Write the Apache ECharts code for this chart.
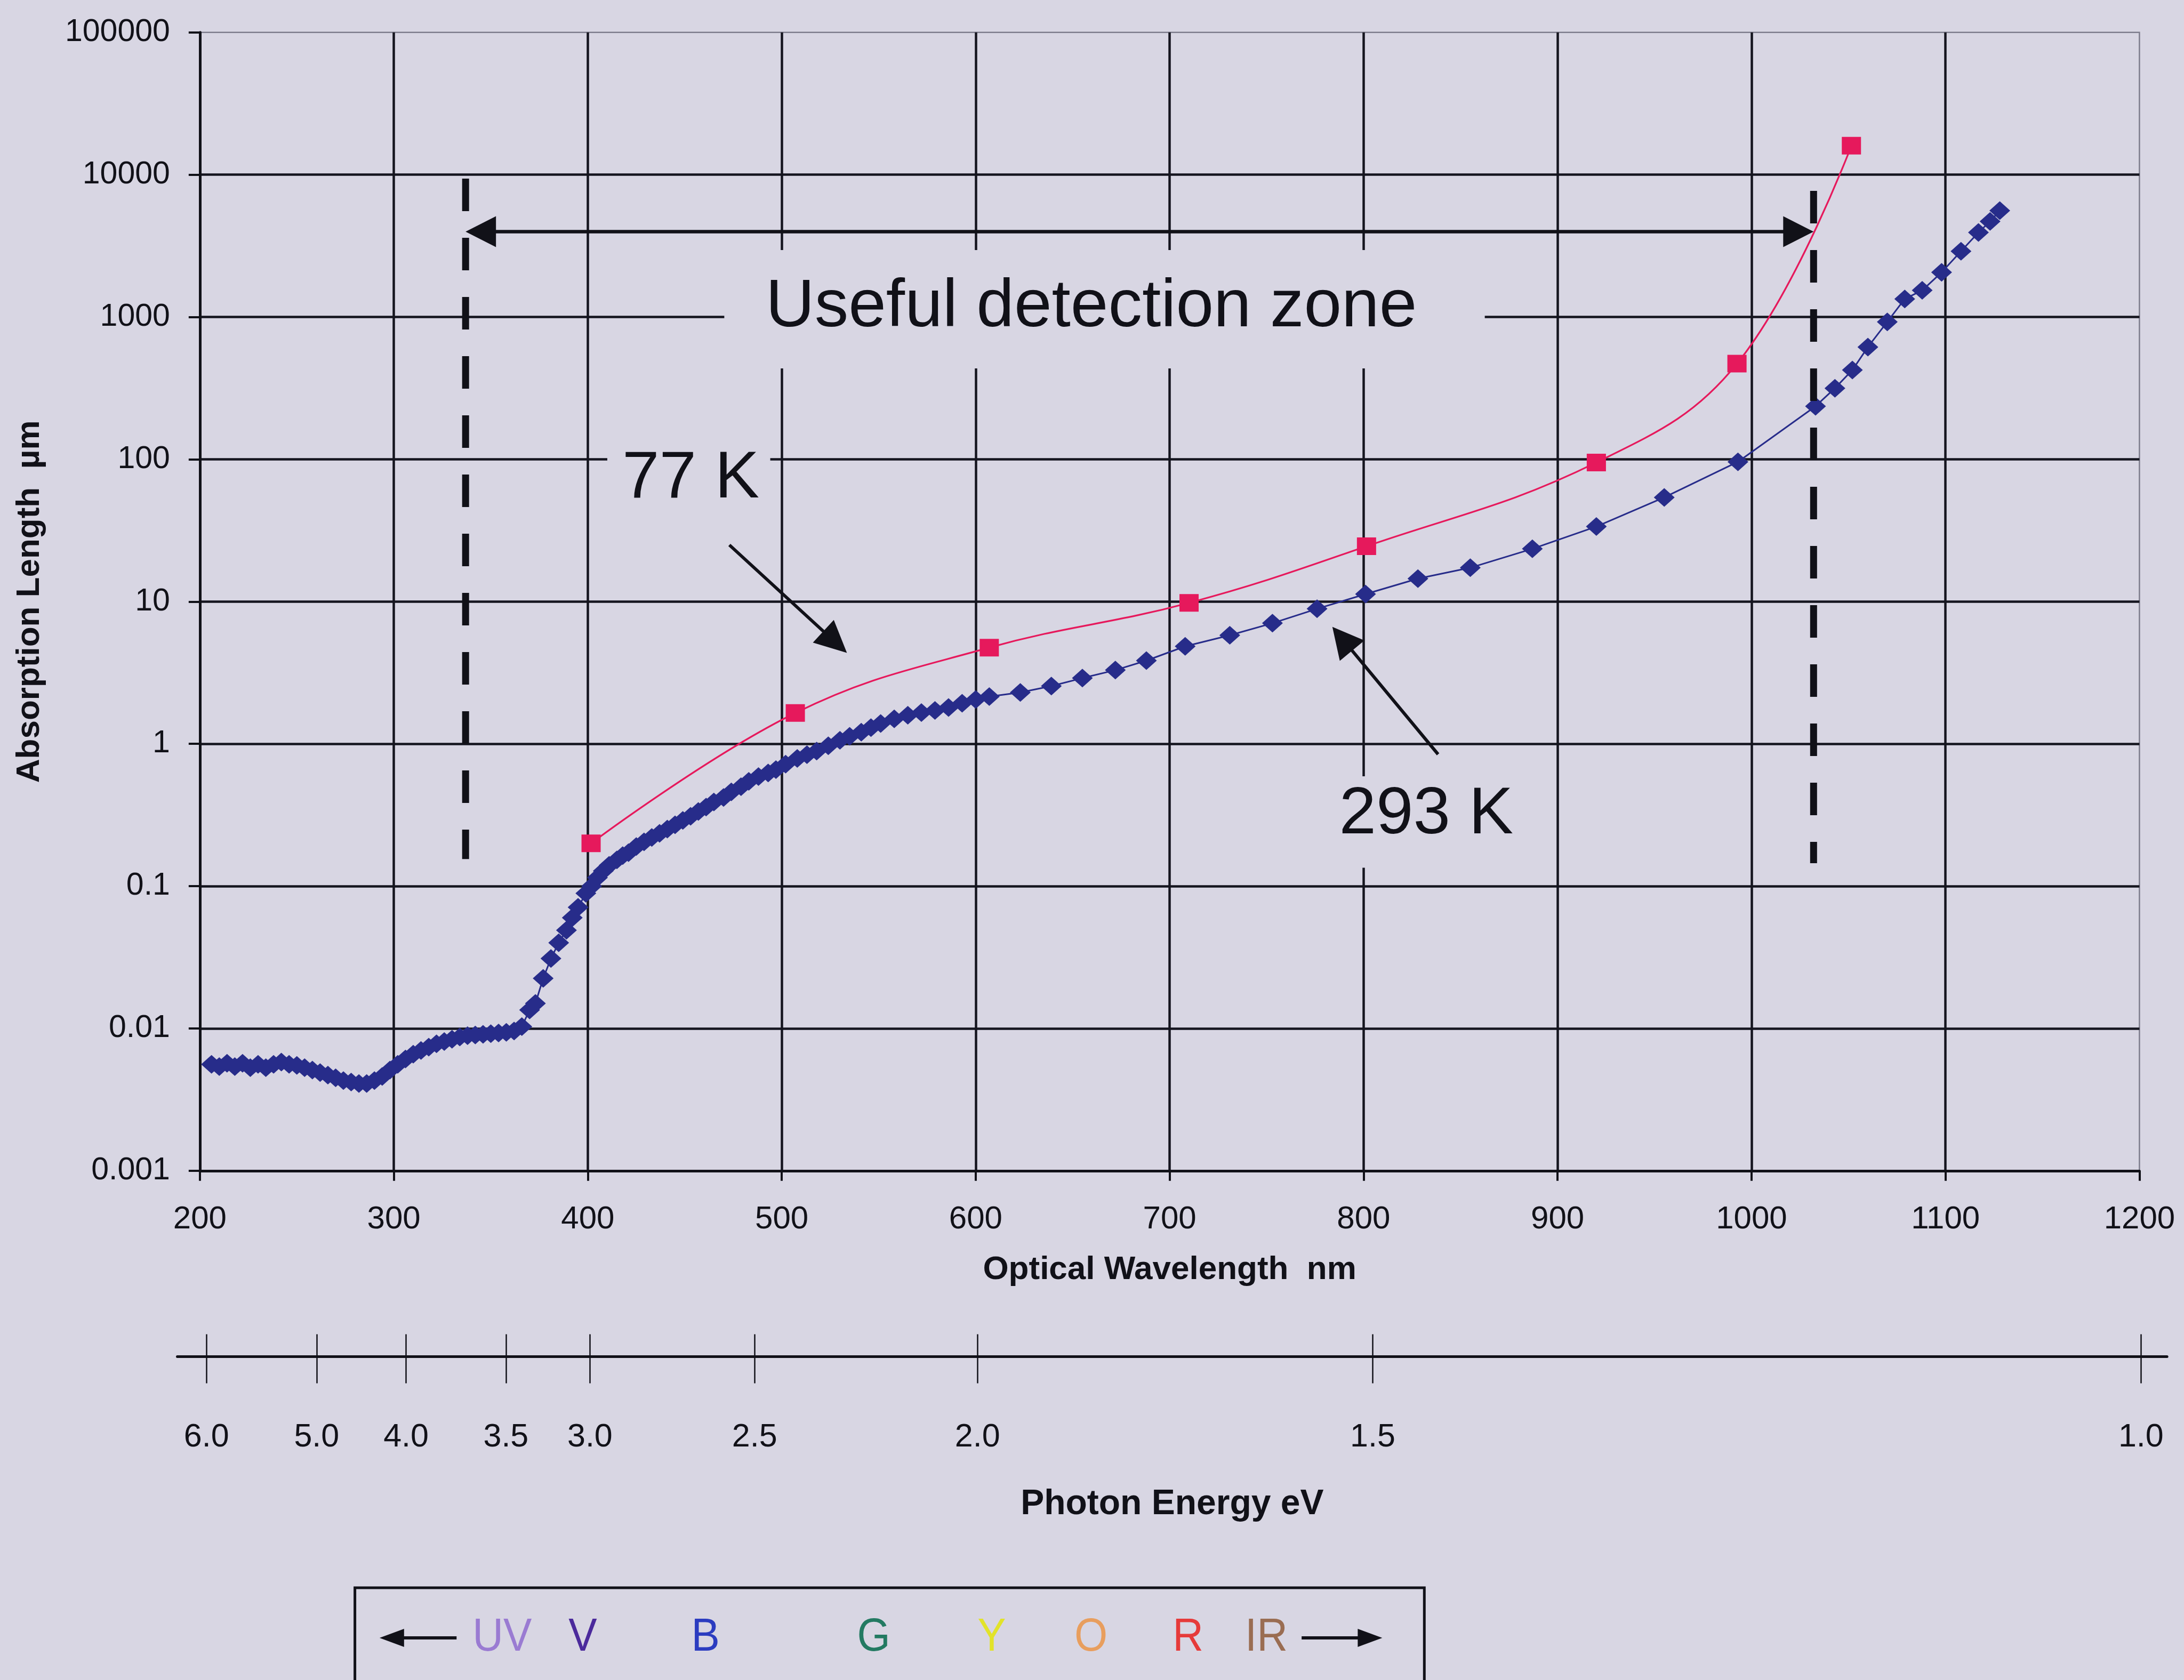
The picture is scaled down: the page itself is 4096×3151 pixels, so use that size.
<!DOCTYPE html>
<html>
<head>
<meta charset="utf-8">
<title>Absorption length of silicon</title>
<script src="https://cdn.jsdelivr.net/npm/echarts@6/dist/echarts.min.js"></script>
<style>
  html, body { margin: 0; padding: 0; background: #d8d6e3; }
  #chart { width: 4096px; height: 3151px; }
</style>
</head>
<body>
<div id="chart"></div>
<script>
// ---- data -------------------------------------------------------------
// 293 K: wavelength (nm) and absorption length (µm)
const wl293 = [
  206, 210, 214, 218, 222, 226, 230, 234, 238, 242, 246, 250, 254, 258, 262, 266,
  270, 274, 278, 282, 286, 290, 294, 298, 302, 306, 310, 314, 318, 322, 326, 330,
  334, 338, 342, 346, 350, 354, 358, 362, 366, 370, 373, 377, 381, 385, 389, 392,
  395, 399, 402, 405, 408, 411, 415, 418, 421, 425, 429, 433, 437, 441, 445, 449,
  453, 457, 461, 465, 470, 474, 479, 483, 488, 493, 497, 502, 508, 513, 518, 524,
  530, 535, 541, 546, 551, 558, 565, 572, 579, 586, 593, 600, 607, 623, 639, 655,
  672, 688, 708, 731, 753, 776, 801, 828, 855, 887, 920, 955, 993, 1033, 1043, 1052,
  1060, 1070, 1079, 1088, 1098, 1108, 1117, 1123, 1128
];
const abs293 = [
  0.0056, 0.0054, 0.0057, 0.0054, 0.0057, 0.0053, 0.0056, 0.0053, 0.0056, 0.0058, 0.0056, 0.0055, 0.0053, 0.0051, 0.0049, 0.0047,
  0.0045, 0.0043, 0.0042, 0.0041, 0.0041, 0.0043, 0.0046, 0.0051, 0.0056, 0.0061, 0.0066, 0.0070, 0.0074, 0.0078, 0.0081, 0.0084,
  0.0087, 0.0089, 0.0090, 0.0091, 0.0092, 0.0093, 0.0094, 0.0096, 0.0103, 0.0135, 0.0150, 0.0225, 0.031, 0.040, 0.049, 0.060,
  0.071, 0.089, 0.100, 0.115, 0.128, 0.140, 0.153, 0.164, 0.172, 0.190, 0.205, 0.220, 0.235, 0.252, 0.270, 0.290,
  0.310, 0.335, 0.360, 0.390, 0.420, 0.460, 0.500, 0.545, 0.590, 0.625, 0.660, 0.720, 0.790, 0.840, 0.890, 0.970,
  1.06, 1.13, 1.21, 1.30, 1.39, 1.50, 1.59, 1.66, 1.72, 1.80, 1.93, 2.05, 2.15, 2.30, 2.55, 2.90,
  3.30, 3.85, 4.85, 5.8, 7.05, 8.9, 11.3, 14.5, 17.3, 23.5, 33.7, 54, 96, 236, 316, 424,
  615, 925, 1340, 1540, 2060, 2900, 3930, 4700, 5600
];

// 77 K: wavelength (nm) and absorption length (µm)
const wl77  = [401.7, 507, 607, 710, 801.5, 920, 992.5, 1051.5];
const abs77 = [0.20, 1.65, 4.75, 9.8, 24.5, 95, 470, 16000];

// axis tick labels
const yTickLabels = ['0.001', '0.01', '0.1', '1', '10', '100', '1000', '10000', '100000'];
const energyLabels = ['6.0', '5.0', '4.0', '3.5', '3.0', '2.5', '2.0', '1.5', '1.0'];
const energyAtNm   = [203.4, 260.2, 306.3, 357.8, 401.1, 486.0, 600.9, 804.7, 1200.8];

// spectral bands strip
const bandLabels = ['UV', 'V', 'B', 'G', 'Y', 'O', 'R', 'IR'];
const bandColors = ['#9a7bd2', '#4b2a9c', '#2b3cc0', '#237a62', '#e2e32a', '#e89e5e', '#e63a3a', '#9a6d52'];

// annotations (data space)
const zoneEdgesNm = [337, 1032];
const zoneLineSpan = [[0.155, 9400], [0.145, 7700]];
const zoneArrowLevel = 3980;
const arrow77  = [[473, 25], [533.6, 4.36]];
const arrow293 = [[838.4, 0.845], [783.9, 6.65]];

// ---- layout -----------------------------------------------------------
const u = v => v * 4096 / 1568;      // layout unit -> px
const BG = '#d8d6e3';
const INK = '#111118';
const FONT = '"Liberation Sans", Arial, sans-serif';

const plotL = u(143.5), plotR = u(1536), plotT = u(23.3), plotB = u(840.6);
const eAxisY = u(973.9), eL = u(127.3), eR = u(1555.8);
const nmPerPx = 1000 / (plotR - plotL);
const eMin = 200 - (plotL - eL) * nmPerPx;
const eMax = 1200 + (eR - plotR) * nmPerPx;

const chart = echarts.init(document.getElementById('chart'), null, { renderer: 'canvas' });

const option = {
  backgroundColor: BG,
  animation: false,
  grid: [
    {
      left: plotL, right: 4096 - plotR, top: plotT, bottom: 3151 - plotB,
      show: true, borderColor: '#7d7c8c', borderWidth: 2.5, backgroundColor: 'transparent'
    },
    { left: eL, right: 4096 - eR, top: eAxisY - 0.5, height: 1 }
  ],
  xAxis: [
    {
      gridIndex: 0, type: 'value', min: 200, max: 1200, interval: 100,
      axisLine: { onZero: false, lineStyle: { color: INK, width: 5 } },
      axisTick: { length: 19, lineStyle: { color: INK, width: 4 } },
      axisLabel: {
        color: INK, fontFamily: FONT, fontSize: 60, margin: 92, verticalAlign: 'middle',
        formatter: v => String(v)
      },
      splitLine: { show: true, showMaxLine: false, lineStyle: { color: '#15151f', width: 4.5 } },
      name: 'Optical Wavelength  nm', nameLocation: 'middle', nameGap: 186,
      nameTextStyle: { color: INK, fontFamily: FONT, fontWeight: 'bold', fontSize: 62, verticalAlign: 'middle' }
    },
    {
      gridIndex: 1, type: 'value', position: 'top', min: eMin, max: eMax,
      axisLine: { show: false, onZero: false },
      axisTick: { show: true, length: 41, lineStyle: { color: INK, width: 2.5 }, customValues: energyAtNm },
      axisLabel: { show: false },
      splitLine: { show: false }
    },
    {
      gridIndex: 1, type: 'value', position: 'bottom', min: eMin, max: eMax,
      axisLine: { show: true, onZero: false, lineStyle: { color: INK, width: 5 } },
      axisTick: { show: true, length: 50, lineStyle: { color: INK, width: 2.5 }, customValues: energyAtNm },
      axisLabel: {
        show: true, customValues: energyAtNm,
        formatter: v => {
          const i = energyAtNm.findIndex(n => Math.abs(n - v) < 0.01);
          return i >= 0 ? energyLabels[i] : '';
        },
        color: INK, fontFamily: FONT, fontSize: 61, margin: 152, verticalAlign: 'middle'
      },
      splitLine: { show: false },
      name: 'Photon Energy eV', nameLocation: 'middle', nameGap: 277,
      nameTextStyle: { color: INK, fontFamily: FONT, fontWeight: 'bold', fontSize: 66, verticalAlign: 'middle' }
    }
  ],
  yAxis: [
    {
      gridIndex: 0, type: 'log', logBase: 10, min: 0.001, max: 100000, splitNumber: 8,
      axisLine: { onZero: false, lineStyle: { color: INK, width: 5 } },
      axisTick: { length: 21, lineStyle: { color: INK, width: 4 } },
      axisLabel: {
        color: INK, fontFamily: FONT, fontSize: 59, margin: 56,
        formatter: v => yTickLabels[Math.round(Math.log10(v)) + 3] || ''
      },
      splitLine: { show: true, showMaxLine: false, lineStyle: { color: '#15151f', width: 4.5 } },
      name: 'Absorption Length  µm', nameLocation: 'middle', nameGap: 319,
      nameTextStyle: { color: INK, fontFamily: FONT, fontWeight: 'bold', fontSize: 62, verticalAlign: 'middle' }
    },
    { gridIndex: 1, type: 'value', show: false }
  ],
  series: [
    {
      name: '293 K', type: 'line', xAxisIndex: 0, yAxisIndex: 0,
      data: wl293.map((x, i) => [x, abs293[i]]),
      symbol: 'diamond', symbolSize: [39, 35], showAllSymbol: true,
      itemStyle: { color: '#272c8a' },
      lineStyle: { color: '#272c8a', width: 3 },
      z: 3
    },
    {
      name: '77 K', type: 'line', xAxisIndex: 0, yAxisIndex: 0,
      data: wl77.map((x, i) => [x, abs77[i]]),
      symbol: 'rect', symbolSize: [36, 33], smooth: 0.4,
      itemStyle: { color: '#e6195c' },
      lineStyle: { color: '#e6195c', width: 3.2 },
      z: 4
    }
  ]
};

chart.setOption(option);

// ---- annotations ---------------------------------------------------------
const toPx = (x, y) => chart.convertToPixel({ xAxisIndex: 0, yAxisIndex: 0 }, [x, y]);

function arrow(tail, tip, headLen, headHalf, width, doubleHead) {
  const dx = tip[0] - tail[0], dy = tip[1] - tail[1];
  const d = Math.hypot(dx, dy), ux = dx / d, uy = dy / d;
  const head = (p, sx, sy) => {
    const bx = p[0] - sx * headLen, by = p[1] - sy * headLen;
    return {
      type: 'polygon', z: 20,
      shape: { points: [[p[0], p[1]], [bx - sy * headHalf, by + sx * headHalf], [bx + sy * headHalf, by - sx * headHalf]] },
      style: { fill: INK }
    };
  };
  const start = doubleHead ? [tail[0] + ux * headLen * 0.8, tail[1] + uy * headLen * 0.8] : tail;
  const end = [tip[0] - ux * headLen * 0.8, tip[1] - uy * headLen * 0.8];
  const els = [{
    type: 'line', z: 20,
    shape: { x1: start[0], y1: start[1], x2: end[0], y2: end[1] },
    style: { stroke: INK, lineWidth: width }
  }, head(tip, ux, uy)];
  if (doubleHead) els.push(head(tail, -ux, -uy));
  return els;
}

const g = [];

// boxes that keep the labels clear of the grid
g.push({ type: 'rect', z: 1, shape: { x: u(520), y: u(179.5), width: u(546), height: u(85) }, style: { fill: BG } });
g.push({ type: 'rect', z: 1, shape: { x: u(436), y: u(321), width: u(117), height: u(46) }, style: { fill: BG } });
g.push({ type: 'rect', z: 1, shape: { x: u(950), y: u(557.4), width: u(147), height: u(65.6) }, style: { fill: BG } });

// detection zone limits
zoneEdgesNm.forEach((nm, i) => {
  const a = toPx(nm, zoneLineSpan[i][1]), b = toPx(nm, zoneLineSpan[i][0]);
  g.push({
    type: 'line', z: 20,
    shape: { x1: a[0], y1: a[1], x2: b[0], y2: b[1] },
    style: { stroke: INK, lineWidth: 13, lineDash: [61, 50] }
  });
});
g.push(...arrow(toPx(zoneEdgesNm[0], zoneArrowLevel), toPx(zoneEdgesNm[1], zoneArrowLevel), 57, 29, 6.5, true));
g.push(...arrow(toPx(arrow77[0][0], arrow77[0][1]), toPx(arrow77[1][0], arrow77[1][1]), 60, 29, 6, false));
g.push(...arrow(toPx(arrow293[0][0], arrow293[0][1]), toPx(arrow293[1][0], arrow293[1][1]), 58, 30, 6, false));

const label = (text, x, y, size, align) => ({
  type: 'text', z: 25, x, y,
  style: { text, fill: INK, fontFamily: FONT, fontSize: size, align: align || 'center', verticalAlign: 'middle' }
});
g.push(label('Useful detection zone', u(783.5), u(221), 127));
g.push(label('77 K', u(446.7), u(344), 125, 'left'));
g.push(label('293 K', u(961.4), u(585), 125, 'left'));

// spectral bands strip
g.push({
  type: 'rect', z: 5,
  shape: { x: u(254.8), y: u(1140), width: u(767.8), height: u(120) },
  style: { fill: BG, stroke: INK, lineWidth: 5 }
});
const bandX = [360.5, 418.4, 506.5, 627.3, 712, 783.3, 853, 909.2];
const stripY = u(1176);
bandLabels.forEach((t, i) => {
  g.push({
    type: 'text', z: 25, x: u(bandX[i]), y: stripY, scaleY: 1.08,
    style: { text: t, fill: bandColors[i], fontFamily: FONT, fontSize: 80, align: 'center', verticalAlign: 'middle' }
  });
});
g.push(...arrow([u(327.8), stripY], [u(272.5), stripY], 46, 17, 6, false));
g.push(...arrow([u(934.5), stripY], [u(992.4), stripY], 46, 17, 6, false));

chart.setOption({ graphic: { elements: g } });
</script>
</body>
</html>
